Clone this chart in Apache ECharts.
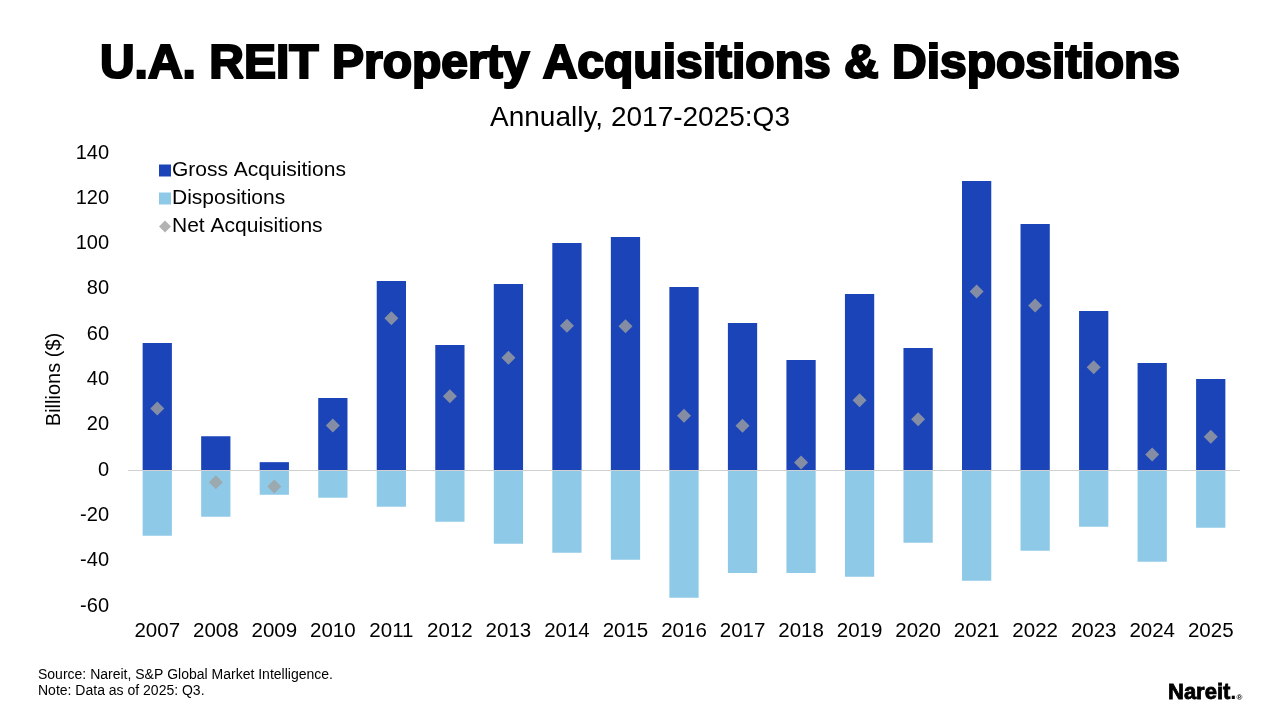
<!DOCTYPE html>
<html>
<head>
<meta charset="utf-8">
<script src="https://cdn.jsdelivr.net/npm/echarts@6/dist/echarts.min.js"></script>
<style>
html,body{margin:0;padding:0;background:#fff;}
#chart{width:1280px;height:720px;}
</style>
</head>
<body>
<div id="chart"></div>
<script>
const years = ['2007','2008','2009','2010','2011','2012','2013','2014','2015','2016','2017','2018','2019','2020','2021','2022','2023','2024','2025'];
const grossAcquisitions = [56.1, 15.0, 3.5, 31.8, 83.5, 55.2, 82.2, 100.3, 102.9, 80.8, 64.9, 48.6, 77.7, 53.9, 127.6, 108.7, 70.2, 47.3, 40.2];
const dispositions = [-29.0, -20.6, -10.9, -12.2, -16.2, -22.8, -32.5, -36.5, -39.6, -56.4, -45.4, -45.4, -47.1, -32.1, -48.9, -35.6, -25.0, -40.5, -25.5];
const netAcquisitions = [27.2, -5.4, -7.2, 19.7, 67.0, 32.6, 49.6, 63.7, 63.5, 24.0, 19.6, 3.4, 30.8, 22.4, 78.8, 72.7, 45.4, 6.9, 14.7];
const yTicks = {min: -60, max: 140, interval: 20};

const chart = echarts.init(document.getElementById('chart'));
const font = 'Liberation Sans, Arial, sans-serif';
chart.setOption({
  backgroundColor: '#ffffff',
  animation: false,
  textStyle: {fontFamily: font},
  title: [
    {text: 'U.A. REIT Property Acquisitions & Dispositions', left: 'center', top: 36,
     textStyle: {fontSize: 48, fontWeight: 'bold', color: '#000', fontFamily: font,
       textBorderColor: '#000', textBorderWidth: 2.2}},
    {text: 'Annually, 2017-2025:Q3', left: 'center', top: 99,
     textStyle: {fontSize: 28, fontWeight: 'normal', color: '#000', fontFamily: font}},
    {text: 'Source: Nareit, S&P Global Market Intelligence.\nNote: Data as of 2025: Q3.', left: 33, top: 662,
     textStyle: {fontSize: 14, fontWeight: 'normal', color: '#000', lineHeight: 16, fontFamily: font}},
    {text: '{a|Nareit}{b|.}{c|®}', left: 1163, top: 677,
     textStyle: {rich: {
       a: {fontSize: 22, fontWeight: 'bold', color: '#000', fontFamily: font, textBorderColor: '#000', textBorderWidth: 0.8},
       b: {fontSize: 22, fontWeight: 'bold', color: '#000', fontFamily: font},
       c: {fontSize: 8, color: '#000', fontFamily: font, padding: [10,0,0,0]}
     }}}
  ],
  legend: {
    orient: 'vertical', left: 154, top: 155, itemGap: 7,
    itemWidth: 12, itemHeight: 12,
    textStyle: {fontSize: 21, color: '#000', padding: [0,0,0,-4]},
    data: [
      {name: 'Gross Acquisitions', icon: 'rect'},
      {name: 'Dispositions', icon: 'rect'},
      {name: 'Net Acquisitions', icon: 'diamond'}
    ]
  },
  grid: {left: 128, right: 40, top: 153, bottom: 114, containLabel: false},
  xAxis: {
    type: 'category', data: years,
    axisLine: {show: false}, axisTick: {show: false},
    axisLabel: {fontSize: 20.5, color: '#000', margin: 15, interval: 0},
  },
  yAxis: {
    type: 'value', min: yTicks.min, max: yTicks.max, interval: yTicks.interval,
    name: 'Billions ($)', nameLocation: 'middle', nameGap: 60, nameRotate: 90,
    nameTextStyle: {fontSize: 20, color: '#000'},
    axisLine: {show: false}, axisTick: {show: false},
    splitLine: {show: false},
    axisLabel: {fontSize: 20, color: '#000', margin: 19}
  },
  series: [
    {name: 'Gross Acquisitions', type: 'bar', stack: 'total', data: grossAcquisitions,
     barWidth: '50%', itemStyle: {color: '#1a44b8'},
     markLine: {silent: true, symbol: 'none', label: {show: false},
       lineStyle: {color: '#d0d0d0', width: 1, type: 'solid'}, data: [{yAxis: 0}]}},
    {name: 'Dispositions', type: 'bar', stack: 'total', data: dispositions,
     barWidth: '50%', itemStyle: {color: '#8ecae8'}},
    {name: 'Net Acquisitions', type: 'scatter', data: netAcquisitions,
     symbol: 'diamond', symbolSize: 14, itemStyle: {color: '#a0a0a0'}, z: 5}
  ]
});
</script>
</body>
</html>
